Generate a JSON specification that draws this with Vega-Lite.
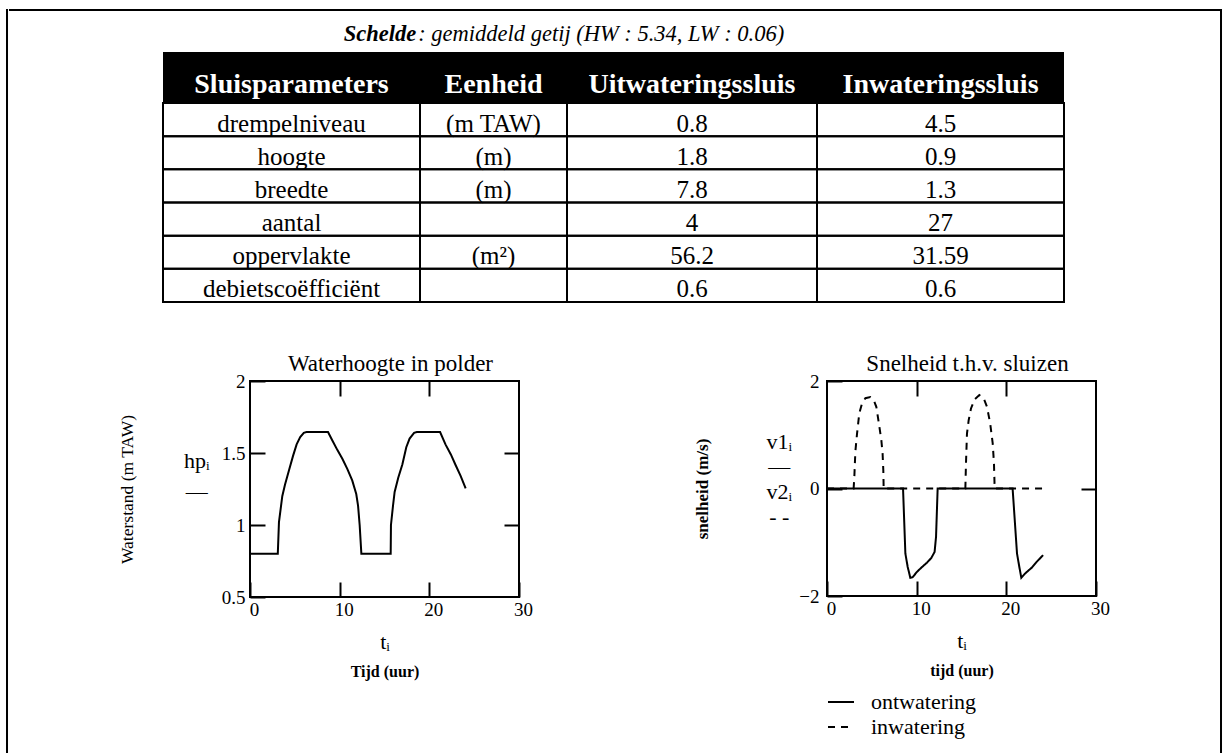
{
  "$schema": "https://vega.github.io/schema/vega-lite/v6.json",
  "background": "white",
  "padding": {"left": 6, "top": 9, "right": 0, "bottom": 0},
  "config": {
    "font": "Liberation Serif",
    "view": {"stroke": null},
    "axis": {
      "domain": false,
      "grid": false,
      "minExtent": 0,
      "tickSize": -15,
      "tickWidth": 2,
      "tickColor": "black",
      "labelFont": "Liberation Serif",
      "labelFontSize": 19,
      "labelColor": "black",
      "labelFlush": false,
      "titleFont": "Liberation Serif",
      "titleFontWeight": "normal",
      "titleFontSize": 22,
      "titleColor": "black"
    },
    "title": {"font": "Liberation Serif", "fontWeight": "normal", "fontSize": 23, "color": "black"}
  },
  "datasets": {
    "titel": [
      {"deel": "Schelde"},
      {"deel": "\u00a0: gemiddeld getij (HW : 5.34, LW : 0.06)"}
    ],
    "kop": [
      {"kolom": "Sluisparameters"},
      {"kolom": "Eenheid"},
      {"kolom": "Uitwateringssluis"},
      {"kolom": "Inwateringssluis"}
    ],
    "tabel": [
      {"param": "drempelniveau", "eenheid": "(m TAW)", "uit": 0.8, "inw": 4.5},
      {"param": "hoogte", "eenheid": "(m)", "uit": 1.8, "inw": 0.9},
      {"param": "breedte", "eenheid": "(m)", "uit": 7.8, "inw": 1.3},
      {"param": "aantal", "eenheid": "", "uit": 4, "inw": 27},
      {"param": "oppervlakte", "eenheid": "(m²)", "uit": 56.2, "inw": 31.59},
      {"param": "debietscoëfficiënt", "eenheid": "", "uit": 0.6, "inw": 0.6}
    ],
    "waterhoogte": [
      {"t": 0, "hp": 0.8}, {"t": 3.1, "hp": 0.8}, {"t": 3.23, "hp": 1.02}, {"t": 3.6, "hp": 1.2},
      {"t": 3.9, "hp": 1.28}, {"t": 4.35, "hp": 1.38}, {"t": 4.8, "hp": 1.48}, {"t": 5.2, "hp": 1.56},
      {"t": 5.6, "hp": 1.61}, {"t": 6.0, "hp": 1.64}, {"t": 6.3, "hp": 1.645}, {"t": 8.7, "hp": 1.645},
      {"t": 9.2, "hp": 1.585}, {"t": 9.75, "hp": 1.52}, {"t": 10.3, "hp": 1.46}, {"t": 10.85, "hp": 1.39},
      {"t": 11.4, "hp": 1.31}, {"t": 11.85, "hp": 1.215}, {"t": 12.05, "hp": 1.135}, {"t": 12.23, "hp": 1.0},
      {"t": 12.42, "hp": 0.8}, {"t": 15.69, "hp": 0.8}, {"t": 15.72, "hp": 1.0}, {"t": 15.95, "hp": 1.135},
      {"t": 16.13, "hp": 1.23}, {"t": 16.54, "hp": 1.33}, {"t": 16.99, "hp": 1.42}, {"t": 17.43, "hp": 1.54},
      {"t": 17.8, "hp": 1.6}, {"t": 18.3, "hp": 1.64}, {"t": 18.6, "hp": 1.645}, {"t": 21.2, "hp": 1.645},
      {"t": 21.8, "hp": 1.56}, {"t": 22.4, "hp": 1.49}, {"t": 22.9, "hp": 1.42}, {"t": 23.5, "hp": 1.34},
      {"t": 24.05, "hp": 1.255}
    ],
    "snelheid": [
      {"t": 0, "v": 0, "reeks": "ontwatering"}, {"t": 8.48, "v": 0, "reeks": "ontwatering"},
      {"t": 8.74, "v": -1.21, "reeks": "ontwatering"}, {"t": 9.0, "v": -1.46, "reeks": "ontwatering"},
      {"t": 9.29, "v": -1.66, "reeks": "ontwatering"}, {"t": 9.55, "v": -1.65, "reeks": "ontwatering"},
      {"t": 10.04, "v": -1.55, "reeks": "ontwatering"}, {"t": 10.6, "v": -1.46, "reeks": "ontwatering"},
      {"t": 11.15, "v": -1.38, "reeks": "ontwatering"}, {"t": 11.64, "v": -1.29, "reeks": "ontwatering"},
      {"t": 12.0, "v": -1.18, "reeks": "ontwatering"}, {"t": 12.16, "v": -0.9, "reeks": "ontwatering"},
      {"t": 12.34, "v": 0, "reeks": "ontwatering"}, {"t": 20.7, "v": 0, "reeks": "ontwatering"},
      {"t": 21.19, "v": -1.21, "reeks": "ontwatering"}, {"t": 21.45, "v": -1.46, "reeks": "ontwatering"},
      {"t": 21.67, "v": -1.66, "reeks": "ontwatering"}, {"t": 22.1, "v": -1.58, "reeks": "ontwatering"},
      {"t": 22.5, "v": -1.52, "reeks": "ontwatering"}, {"t": 22.86, "v": -1.47, "reeks": "ontwatering"},
      {"t": 23.35, "v": -1.37, "reeks": "ontwatering"}, {"t": 24.1, "v": -1.24, "reeks": "ontwatering"},
      {"t": 0, "v": 0, "reeks": "inwatering"}, {"t": 2.97, "v": 0, "reeks": "inwatering"},
      {"t": 3.05, "v": 0.22, "reeks": "inwatering"}, {"t": 3.16, "v": 0.68, "reeks": "inwatering"},
      {"t": 3.35, "v": 1.02, "reeks": "inwatering"}, {"t": 3.6, "v": 1.4, "reeks": "inwatering"},
      {"t": 3.9, "v": 1.58, "reeks": "inwatering"}, {"t": 4.28, "v": 1.68, "reeks": "inwatering"},
      {"t": 4.83, "v": 1.7, "reeks": "inwatering"}, {"t": 5.2, "v": 1.65, "reeks": "inwatering"},
      {"t": 5.5, "v": 1.52, "reeks": "inwatering"}, {"t": 5.76, "v": 1.24, "reeks": "inwatering"},
      {"t": 6.06, "v": 0.9, "reeks": "inwatering"}, {"t": 6.2, "v": 0.65, "reeks": "inwatering"},
      {"t": 6.28, "v": 0.34, "reeks": "inwatering"}, {"t": 6.32, "v": 0, "reeks": "inwatering"},
      {"t": 15.43, "v": 0, "reeks": "inwatering"}, {"t": 15.5, "v": 0.47, "reeks": "inwatering"},
      {"t": 15.61, "v": 1.02, "reeks": "inwatering"}, {"t": 15.8, "v": 1.27, "reeks": "inwatering"},
      {"t": 16.06, "v": 1.49, "reeks": "inwatering"}, {"t": 16.47, "v": 1.66, "reeks": "inwatering"},
      {"t": 16.99, "v": 1.74, "reeks": "inwatering"}, {"t": 17.47, "v": 1.68, "reeks": "inwatering"},
      {"t": 17.84, "v": 1.52, "reeks": "inwatering"}, {"t": 18.2, "v": 1.21, "reeks": "inwatering"},
      {"t": 18.48, "v": 0.84, "reeks": "inwatering"}, {"t": 18.62, "v": 0.47, "reeks": "inwatering"},
      {"t": 18.7, "v": 0, "reeks": "inwatering"}, {"t": 24.1, "v": 0, "reeks": "inwatering"}
    ]
  },
  "spacing": 0,
  "hconcat": [
    {
      "width": 0.01,
      "height": 742,
      "view": {"stroke": "black", "strokeWidth": 2},
      "data": {"values": [{}]},
      "mark": {"type": "point", "opacity": 0, "size": 0, "strokeWidth": 0}
    },
    {
      "spacing": 6,
      "vconcat": [
        {
          "width": 1209,
          "height": 0.01,
          "view": {"stroke": "black", "strokeWidth": 2},
          "data": {"values": [{}]},
          "mark": {"type": "point", "opacity": 0, "size": 0, "strokeWidth": 0}
        },
        {
          "spacing": 49,
          "vconcat": [
            {
              "spacing": 0,
              "vconcat": [
                {
                  "bounds": "flush",
                  "spacing": 0,
                  "hconcat": [
                    {"width": 153, "height": 1, "data": {"values": [{}]}, "mark": {"type": "point", "opacity": 0, "size": 0, "strokeWidth": 0}},
                    {
                      "width": 901,
                      "height": 34,
                      "data": {"name": "titel"},
                      "layer": [
                        {
                          "transform": [{"filter": "datum.deel === 'Schelde'"}],
                          "mark": {"type": "text", "align": "right", "font": "Liberation Serif", "fontSize": 22.5, "fontStyle": "italic", "fontWeight": "bold", "dy": -1},
                          "encoding": {
                            "x": {"datum": 0.281, "type": "quantitative", "scale": {"domain": [0, 1]}, "axis": null},
                            "text": {"field": "deel"}
                          }
                        },
                        {
                          "transform": [{"filter": "datum.deel !== 'Schelde'"}],
                          "mark": {"type": "text", "align": "left", "font": "Liberation Serif", "fontSize": 22.5, "fontStyle": "italic", "dy": -1, "dx": 2},
                          "encoding": {
                            "x": {"datum": 0.281, "type": "quantitative", "scale": {"domain": [0, 1]}, "axis": null},
                            "text": {"field": "deel"}
                          }
                        }
                      ]
                    }
                  ]
                },
                {
                  "bounds": "flush",
                  "spacing": 0,
                  "hconcat": [
                    {"width": 153, "height": 1, "data": {"values": [{}]}, "mark": {"type": "point", "opacity": 0, "size": 0, "strokeWidth": 0}},
                    {
                      "width": 257, "height": 50, "data": {"name": "kop"},
                      "transform": [{"filter": "datum.kolom === 'Sluisparameters'"}],
                      "view": {"fill": "black", "stroke": null},
                      "mark": {"type": "text", "color": "white", "font": "Liberation Serif", "fontSize": 28, "fontWeight": "bold", "dy": 8},
                      "encoding": {"text": {"field": "kolom"}}
                    },
                    {
                      "width": 147, "height": 50, "data": {"name": "kop"},
                      "transform": [{"filter": "datum.kolom === 'Eenheid'"}],
                      "view": {"fill": "black", "stroke": null},
                      "mark": {"type": "text", "color": "white", "font": "Liberation Serif", "fontSize": 28, "fontWeight": "bold", "dy": 8},
                      "encoding": {"text": {"field": "kolom"}}
                    },
                    {
                      "width": 250, "height": 50, "data": {"name": "kop"},
                      "transform": [{"filter": "datum.kolom === 'Uitwateringssluis'"}],
                      "view": {"fill": "black", "stroke": null},
                      "mark": {"type": "text", "color": "white", "font": "Liberation Serif", "fontSize": 28, "fontWeight": "bold", "dy": 8},
                      "encoding": {"text": {"field": "kolom"}}
                    },
                    {
                      "width": 247, "height": 50, "data": {"name": "kop"},
                      "transform": [{"filter": "datum.kolom === 'Inwateringssluis'"}],
                      "view": {"fill": "black", "stroke": null},
                      "mark": {"type": "text", "color": "white", "font": "Liberation Serif", "fontSize": 28, "fontWeight": "bold", "dy": 8},
                      "encoding": {"text": {"field": "kolom"}}
                    }
                  ]
                },
                {
                  "bounds": "flush",
                  "spacing": 0,
                  "hconcat": [
                    {"width": 153, "height": 1, "data": {"values": [{}]}, "mark": {"type": "point", "opacity": 0, "size": 0, "strokeWidth": 0}},
                    {
                      "width": 257, "height": 199, "data": {"name": "tabel"},
                      "encoding": {"y": {"field": "param", "type": "nominal", "sort": null, "axis": null, "scale": {"paddingInner": 0, "paddingOuter": 0}}},
                      "layer": [
                        {"mark": {"type": "rect", "filled": false, "stroke": "black", "strokeWidth": 2}},
                        {"mark": {"type": "text", "font": "Liberation Serif", "fontSize": 25, "color": "black", "dy": 4}, "encoding": {"text": {"field": "param", "type": "nominal"}}}
                      ]
                    },
                    {
                      "width": 147, "height": 199, "data": {"name": "tabel"},
                      "encoding": {"y": {"field": "param", "type": "nominal", "sort": null, "axis": null, "scale": {"paddingInner": 0, "paddingOuter": 0}}},
                      "layer": [
                        {"mark": {"type": "rect", "filled": false, "stroke": "black", "strokeWidth": 2}},
                        {"mark": {"type": "text", "font": "Liberation Serif", "fontSize": 25, "color": "black", "dy": 4}, "encoding": {"text": {"field": "eenheid", "type": "nominal"}}}
                      ]
                    },
                    {
                      "width": 250, "height": 199, "data": {"name": "tabel"},
                      "encoding": {"y": {"field": "param", "type": "nominal", "sort": null, "axis": null, "scale": {"paddingInner": 0, "paddingOuter": 0}}},
                      "layer": [
                        {"mark": {"type": "rect", "filled": false, "stroke": "black", "strokeWidth": 2}},
                        {"mark": {"type": "text", "font": "Liberation Serif", "fontSize": 25, "color": "black", "dy": 4}, "encoding": {"text": {"field": "uit", "type": "nominal"}}}
                      ]
                    },
                    {
                      "width": 247, "height": 199, "data": {"name": "tabel"},
                      "encoding": {"y": {"field": "param", "type": "nominal", "sort": null, "axis": null, "scale": {"paddingInner": 0, "paddingOuter": 0}}},
                      "layer": [
                        {"mark": {"type": "rect", "filled": false, "stroke": "black", "strokeWidth": 2}},
                        {"mark": {"type": "text", "font": "Liberation Serif", "fontSize": 25, "color": "black", "dy": 4}, "encoding": {"text": {"field": "inw", "type": "nominal"}}}
                      ]
                    }
                  ]
                }
              ]
            },
            {
              "spacing": 0,
              "hconcat": [
                {"width": 107, "height": 1, "data": {"values": [{}]}, "mark": {"type": "point", "opacity": 0, "size": 0, "strokeWidth": 0}},
                {
                  "spacing": 158,
                  "resolve": {"scale": {"strokeDash": "independent"}, "legend": {"strokeDash": "independent"}},
                  "hconcat": [
                    {
                      "width": 269,
                      "height": 216,
                      "data": {"name": "waterhoogte"},
                      "title": {"text": "Waterhoogte in polder", "frame": "group", "baseline": "bottom", "offset": -27, "dx": 6},
                      "view": {"stroke": "black", "strokeWidth": 2},
                      "layer": [
                        {
                          "mark": {"type": "line", "color": "black", "strokeWidth": 2},
                          "encoding": {
                            "x": {"field": "t", "type": "quantitative", "scale": {"domain": [0, 30], "nice": false},
                              "axis": {"orient": "bottom", "values": [0, 10, 20, 30], "labelPadding": 18, "labelOffset": 4, "title": "tᵢ", "titlePadding": 12}},
                            "y": {"field": "hp", "type": "quantitative", "scale": {"domain": [0.5, 2], "nice": false, "zero": false},
                              "axis": {"orient": "left", "values": [0.5, 1, 1.5, 2], "format": "~g", "labelPadding": 20,
                                "title": ["hpᵢ", "—"], "titleAngle": 0, "titleAlign": "center", "titleBaseline": "middle",
                                "titleLineHeight": 31, "titleY": 79, "titlePadding": -6, "titleFontSize": 22}}
                          }
                        },
                        {
                          "mark": {"type": "point", "opacity": 0, "size": 0, "strokeWidth": 0},
                          "encoding": {
                            "x": {"field": "t", "type": "quantitative", "scale": {"domain": [0, 30], "nice": false},
                              "axis": {"orient": "bottom", "labels": false, "ticks": false, "title": "Tijd (uur)", "titleFontSize": 16, "titleFontWeight": "bold", "titlePadding": 66}},
                            "y": {"field": "hp", "type": "quantitative", "scale": {"domain": [0.5, 2], "nice": false, "zero": false},
                              "axis": {"orient": "left", "labels": false, "ticks": false, "title": "Waterstand (m TAW)", "titleFontSize": 17.5, "titlePadding": 114}}
                          }
                        },
                        {
                          "mark": {"type": "point", "opacity": 0, "size": 0, "strokeWidth": 0},
                          "encoding": {
                            "x": {"field": "t", "type": "quantitative", "scale": {"domain": [0, 30], "nice": false},
                              "axis": {"orient": "top", "values": [10, 20], "labels": false, "title": null}},
                            "y": {"field": "hp", "type": "quantitative", "scale": {"domain": [0.5, 2], "nice": false, "zero": false},
                              "axis": {"orient": "right", "values": [1, 1.5], "labels": false, "title": null}}
                          }
                        }
                      ],
                      "resolve": {"axis": {"x": "independent", "y": "independent"}}
                    },
                    {
                      "width": 269,
                      "height": 215,
                      "data": {"name": "snelheid"},
                      "title": {"text": "Snelheid t.h.v. sluizen", "frame": "group", "baseline": "bottom", "offset": -27, "dx": 6},
                      "view": {"stroke": "black", "strokeWidth": 2},
                      "layer": [
                        {
                          "mark": {"type": "line", "color": "black", "strokeWidth": 2},
                          "encoding": {
                            "x": {"field": "t", "type": "quantitative", "scale": {"domain": [0, 30], "nice": false},
                              "axis": {"orient": "bottom", "values": [0, 10, 20, 30], "labelPadding": 18, "labelOffset": 4, "title": "tᵢ", "titlePadding": 12}},
                            "y": {"field": "v", "type": "quantitative", "scale": {"domain": [-2, 2], "nice": false},
                              "axis": {"orient": "left", "values": [-2, 0, 2], "format": "~g", "labelPadding": 23,
                                "title": ["v1ᵢ", "—", "v2ᵢ", "- -"], "titleAngle": 0, "titleAlign": "center", "titleBaseline": "middle",
                                "titleLineHeight": 25, "titleY": 60, "titlePadding": -55, "titleFontSize": 22}},
                            "strokeDash": {"field": "reeks", "type": "nominal",
                              "scale": {"domain": ["ontwatering", "inwatering"], "range": [[1, 0], [7, 6]]},
                              "legend": {"orient": "none", "legendX": 0, "legendY": 307, "title": null, "padding": 0,
                                "symbolType": "stroke", "symbolSize": 676, "symbolStrokeWidth": 2, "symbolStrokeColor": "black",
                                "labelFont": "Liberation Serif", "labelFontSize": 22, "labelColor": "black", "labelOffset": 16, "rowPadding": 0}}
                          }
                        },
                        {
                          "mark": {"type": "point", "opacity": 0, "size": 0, "strokeWidth": 0},
                          "encoding": {
                            "x": {"field": "t", "type": "quantitative", "scale": {"domain": [0, 30], "nice": false},
                              "axis": {"orient": "bottom", "labels": false, "ticks": false, "title": "tijd (uur)", "titleFontSize": 16, "titleFontWeight": "bold", "titlePadding": 66}},
                            "y": {"field": "v", "type": "quantitative", "scale": {"domain": [-2, 2], "nice": false},
                              "axis": {"orient": "left", "labels": false, "ticks": false, "title": "snelheid (m/s)", "titleFontSize": 17, "titleFontWeight": "bold", "titlePadding": 116}}
                          }
                        },
                        {
                          "mark": {"type": "point", "opacity": 0, "size": 0, "strokeWidth": 0},
                          "encoding": {
                            "x": {"field": "t", "type": "quantitative", "scale": {"domain": [0, 30], "nice": false},
                              "axis": {"orient": "top", "values": [10, 20], "labels": false, "title": null}},
                            "y": {"field": "v", "type": "quantitative", "scale": {"domain": [-2, 2], "nice": false},
                              "axis": {"orient": "right", "values": [0], "labels": false, "title": null}}
                          }
                        }
                      ],
                      "resolve": {"axis": {"x": "independent", "y": "independent"}}
                    }
                  ]
                }
              ]
            }
          ]
        }
      ]
    },
    {
      "width": 0.01,
      "height": 742,
      "view": {"stroke": "black", "strokeWidth": 2},
      "data": {"values": [{}]},
      "mark": {"type": "point", "opacity": 0, "size": 0, "strokeWidth": 0}
    }
  ]
}
